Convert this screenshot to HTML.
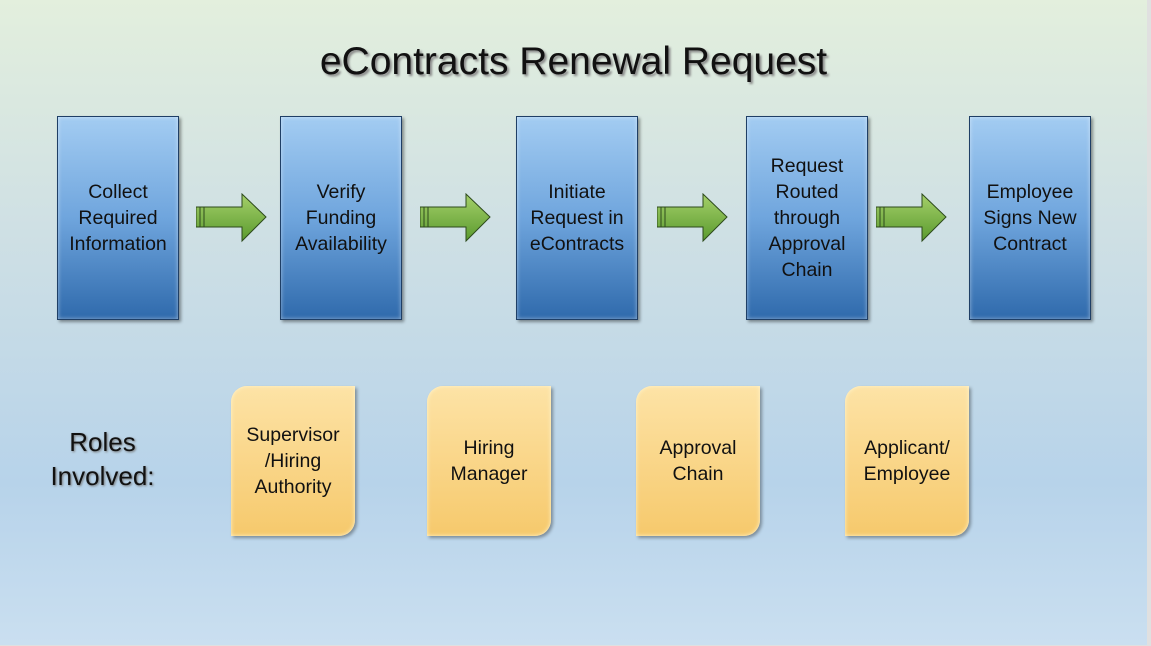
<!DOCTYPE html>
<html><head><style>
body{margin:0;width:1151px;height:646px;overflow:hidden;background:#e0e0e0;font-family:"Liberation Sans",sans-serif;}
#s{position:absolute;left:0;top:0;width:1147px;height:645px;background:linear-gradient(#e3efdd 0%,#cfe0e4 35%,#b7d3ea 75%,#cadff0 100%);}
.t{position:absolute;left:0;width:1147px;top:40px;text-align:center;font-size:39px;color:#111;text-shadow:2px 2px 2px #888;}
.b{position:absolute;top:116px;width:122px;height:204px;background:linear-gradient(#a3ccf2,#6fa5dd 50%,#2f6aac);border:1px solid #1f3f66;box-shadow:2px 2px 3px rgba(0,0,0,.4),inset 0 0 4px rgba(255,255,255,.5);display:flex;align-items:center;justify-content:center;text-align:center;font-size:19.5px;line-height:26px;color:#111;box-sizing:border-box}
.y{position:absolute;top:386px;width:124px;height:150px;background:linear-gradient(#fde3a6,#f6c96c);border-radius:16px 0 16px 0;box-shadow:2px 2px 3px rgba(0,0,0,.35),inset 0 0 4px #fff5d0;display:flex;align-items:center;justify-content:center;text-align:center;font-size:19.5px;line-height:26px;color:#111;padding-bottom:0;box-sizing:border-box}
.a{position:absolute;top:193px}
.r{position:absolute;left:40px;top:425px;font-size:26px;line-height:34px;text-align:center;width:125px;color:#111;text-shadow:1px 1px 2px #777}
</style></head><body><div id="s">
<div class="t">eContracts Renewal Request</div>
<div class="b" style="left:57px">Collect<br>Required<br>Information</div>
<div class="b" style="left:280px">Verify<br>Funding<br>Availability</div>
<div class="b" style="left:516px">Initiate<br>Request in<br>eContracts</div>
<div class="b" style="left:746px">Request<br>Routed<br>through<br>Approval<br>Chain</div>
<div class="b" style="left:969px">Employee<br>Signs New<br>Contract</div>
<svg width="0" height="0" style="position:absolute"><defs><linearGradient id="g" x1="0" y1="0" x2="0" y2="1"><stop offset="0" stop-color="#a5d06a"/><stop offset="1" stop-color="#5a9a2e"/></linearGradient></defs></svg>
<svg class="a" style="left:196px" width="72" height="50"><path d="M0 14H46V1L70 24L46 48V34H0Z" fill="url(#g)" stroke="#2d4a1c"/><path d="M4 14V34M8 14V34" stroke="#2d4a1c"/></svg>
<svg class="a" style="left:420px" width="72" height="50"><path d="M0 14H46V1L70 24L46 48V34H0Z" fill="url(#g)" stroke="#2d4a1c"/><path d="M4 14V34M8 14V34" stroke="#2d4a1c"/></svg>
<svg class="a" style="left:657px" width="72" height="50"><path d="M0 14H46V1L70 24L46 48V34H0Z" fill="url(#g)" stroke="#2d4a1c"/><path d="M4 14V34M8 14V34" stroke="#2d4a1c"/></svg>
<svg class="a" style="left:876px" width="72" height="50"><path d="M0 14H46V1L70 24L46 48V34H0Z" fill="url(#g)" stroke="#2d4a1c"/><path d="M4 14V34M8 14V34" stroke="#2d4a1c"/></svg>
<div class="r">Roles<br>Involved:</div>
<div class="y" style="left:231px">Supervisor<br>/Hiring<br>Authority</div>
<div class="y" style="left:427px">Hiring<br>Manager</div>
<div class="y" style="left:636px">Approval<br>Chain</div>
<div class="y" style="left:845px">Applicant/<br>Employee</div>
</div></body></html>
